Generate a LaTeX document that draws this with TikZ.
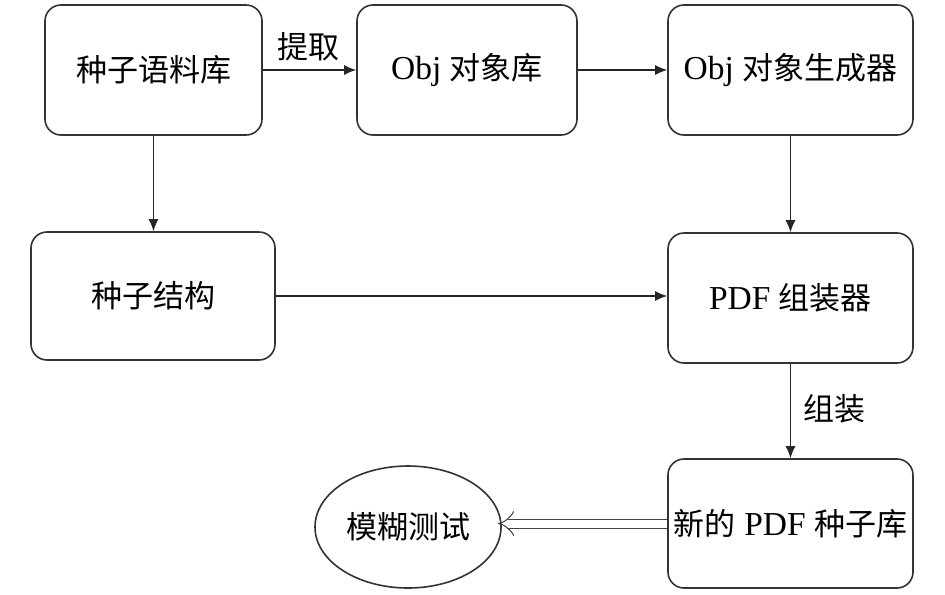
\documentclass[tikz,border=0pt]{standalone}
\usepackage{fontspec}
\setmainfont{Liberation Serif}[Scale=1.08]
\newfontfamily\cjk{Noto Sans CJK SC}
\usetikzlibrary{shapes, arrows, arrows.meta, positioning, calc}

\begin{document}
\begin{tikzpicture}[
			x=0.5pt, y=-0.5pt,
			box/.style={draw=black!80, line width=0.8pt, rounded corners=8pt, align=center,
				font=\fontsize{15.5pt}{18pt}\selectfont, inner sep=0pt},
			oval/.style={draw=black!80, line width=0.8pt, ellipse, inner sep=0pt,
				font=\fontsize{15.5pt}{18pt}\selectfont},
			lbl/.style={font=\fontsize{15.5pt}{18pt}\selectfont, inner sep=1pt},
			flow/.style={-{Latex[length=6pt, width=5pt]}, line width=0.6pt, draw=black!85}]
		\useasboundingbox (0,0) rectangle (945,594);

		\node[box, minimum width=108.5pt, minimum height=65pt] (corpus) at (153.5,70) {\cjk 种子语料库};
		\node[box, minimum width=110pt,   minimum height=65pt] (objlib) at (467,70)   {Obj {\cjk 对象库}};
		\node[box, minimum width=122.5pt, minimum height=65pt] (objgen) at (790.5,70) {Obj {\cjk 对象生成器}};

		\node[box, minimum width=122pt,   minimum height=64pt] (struct) at (153,296)   {\cjk 种子结构};
		\node[box, minimum width=122.5pt, minimum height=65pt] (asm)    at (790.5,298) {PDF {\cjk 组装器}};
		\node[box, minimum width=122.5pt, minimum height=64.5pt] (newlib) at (790.5,523.5) {{\cjk 新的} PDF {\cjk 种子库}};

		\node[oval, minimum width=93pt, minimum height=61pt] (fuzz) at (408,527) {\cjk 模糊测试};

		\node[lbl] (extract) at (308,47)  {\cjk 提取};
		\node[lbl] (build)   at (834,409) {\cjk 组装};

		\foreach \from/\to in {corpus/objlib, objlib/objgen, objgen/asm, asm/newlib}
			\draw[flow] (\from) -- (\to);
		\draw[flow] (corpus) -- (corpus |- struct.north);
		\draw[flow] (struct.east) -- (struct.east -| asm.west);
		\draw[-{Implies[length=5pt]}, double=white, double distance=4pt, line width=0.5pt, draw=black!75]
			(newlib.west) -- ($(fuzz.east |- newlib.west)+(-4,0)$);
	\end{tikzpicture}
\end{document}
